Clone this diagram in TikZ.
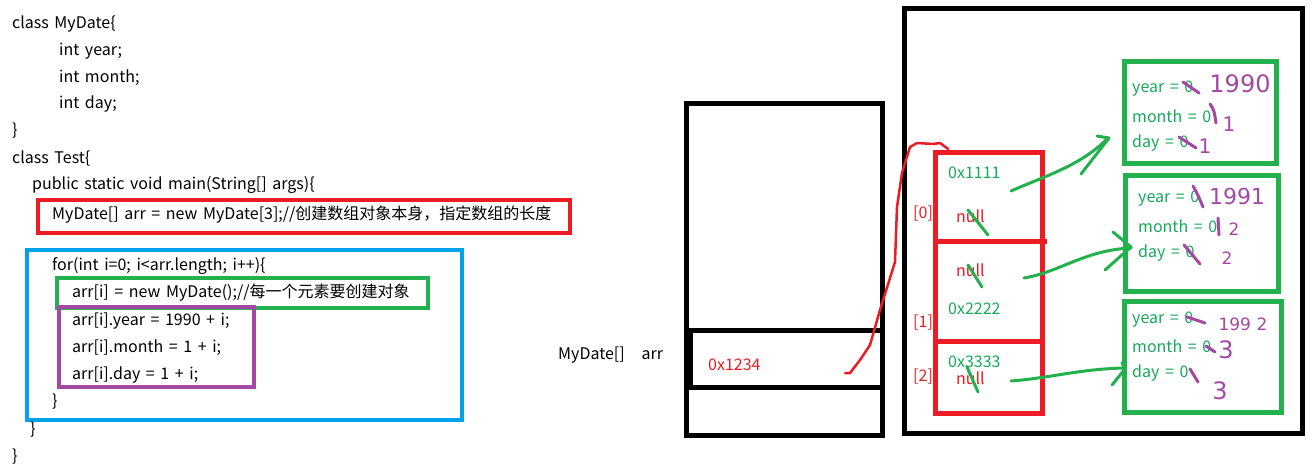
\documentclass[tikz,border=0pt]{standalone}
\usepackage{fontspec}
\setmainfont{Noto Sans CJK SC}
\newfontfamily\handfont{DejaVu Sans}
\definecolor{pred}{RGB}{237,28,36}
\definecolor{pblue}{RGB}{0,162,232}
\definecolor{pgreen}{RGB}{34,177,76}
\definecolor{tgreen}{RGB}{20,170,90}
\definecolor{ppurple}{RGB}{163,73,164}
\newcommand{\mycodefont}{\fontsize{16}{19}\selectfont\spaceskip=5.6pt\relax}
\tikzset{
  code/.style={anchor=west, inner sep=0pt, font=\mycodefont},
  rtext/.style={code, text=pred},
  gtext/.style={code, text=tgreen},
  box/.style={draw, line width=#1, inner sep=0pt},
  hand/.style={text=ppurple, inner sep=0pt, font=\handfont\fontsize{#1}{#1}\selectfont},
  gstroke/.style={draw=pgreen, line width=3pt, line cap=round, line join=round},
  pstroke/.style={draw=ppurple, line width=3pt, line cap=round, line join=round},
  rstroke/.style={draw=pred, line width=2.5pt, line cap=round, line join=round},
}
\begin{document}
\begin{tikzpicture}[x=1pt,y=-1pt]
\useasboundingbox (0,0) rectangle (1314,470);
% ---------------- code ----------------
\node[code] (l1) at (12,24) {class MyDate\{};
\node[code] (l2) at (59,51) {int year;};
\node[code] (l3) at (59,78) {int month;};
\node[code] (l4) at (59,104) {int day;};
\node[code] (l5) at (12,131) {\}};
\node[code] (l6) at (12,158) {class Test\{};
\node[code] (l7) at (32,185) {public static void main(String[] args)\{};
\node[box=4pt, draw=pred, minimum width=532, minimum height=33] (redcode) at (304,216.5) {};
\node[code] (l8) at (52,215) {MyDate[] arr = new MyDate[3];//创建数组对象本身，指定数组的长度};
\node[box=4pt, draw=pblue, minimum width=435, minimum height=170] (bluecode) at (244.5,335) {};
\node[code] (l9) at (52,266) {for(int i=0; i<arr.length; i++)\{};
\node[box=4pt, draw=pgreen, minimum width=371, minimum height=29] (greencode) at (242.5,293) {};
\node[code] (l10) at (72,293) {arr[i] = new MyDate();//每一个元素要创建对象};
\node[box=4pt, draw=ppurple, minimum width=195, minimum height=80] (purplecode) at (156,347) {};
\node[code] (l11) at (72,321) {arr[i].year = 1990 + i;};
\node[code] (l12) at (72,348) {arr[i].month = 1 + i;};
\node[code] (l13) at (72,375) {arr[i].day = 1 + i;};
\node[code] (l14) at (52,402) {\}};
\node[code] (l15) at (30,430) {\}};
\node[code] (l16) at (12,457) {\}};
% ---------------- stack ----------------
\node[code] (varname) at (558,355) {MyDate[]\ \ \ arr};
\node[box=5pt, minimum width=196, minimum height=331] (stack) at (784,269.5) {};
\draw[line width=5pt] (686,330) -- (882,330);
\draw[line width=5pt] (686,387) -- (882,387);
\fill (686,330) rectangle (693,387);
\node[rtext] (ref) at (708,365) {0x1234};
% ---------------- heap ----------------
\node[box=5pt, minimum width=398, minimum height=424] (heap) at (1103,221) {};
\node[box=5pt, draw=pred, minimum width=107, minimum height=260] (arr) at (988.5,283) {};
\draw[draw=pred, line width=5pt] (935,242) -- (1047,242);
\draw[draw=pred, line width=5pt] (935,341) -- (1045,341);
\node[rtext] (i0) at (913,214) {[0]};
\node[rtext] (i1) at (913,323) {[1]};
\node[rtext] (i2) at (913,377) {[2]};
\node[gtext] (a0) at (948,173) {0x1111};
\node[rtext] (n0) at (956,216) {null};
\node[rtext] (n1) at (956,270) {null};
\node[gtext] (a1) at (948,309) {0x2222};
\node[gtext] (a2) at (948,362) {0x3333};
\node[rtext] (n2) at (956,378) {null};
% objects
\node[box=5pt, draw=pgreen, minimum width=152, minimum height=102] (o1) at (1200,113) {};
\node[box=5pt, draw=pgreen, minimum width=153, minimum height=116] (o2) at (1202,234) {};
\node[box=5pt, draw=pgreen, minimum width=157, minimum height=111] (o3) at (1203,356.5) {};
\node[gtext] (o1y) at (1132,89) {year = 0};
\node[gtext] (o1m) at (1132,116) {month = 0};
\node[gtext] (o1d) at (1132,143) {day = 0};
\node[gtext] (o2y) at (1138,199) {year = 0};
\node[gtext] (o2m) at (1138,226) {month = 0};
\node[gtext] (o2d) at (1138,253) {day = 0};
\node[gtext] (o3y) at (1132,320) {year = 0};
\node[gtext] (o3m) at (1132,346) {month = 0};
\node[gtext] (o3d) at (1132,373) {day = 0};
% handwritten values
\node[hand=24] (h1y) at (1240,84) {1990};
\node[hand=20] (h1m) at (1229,124) {1};
\node[hand=20] (h1d) at (1205,146) {1};
\node[hand=22] (h2y) at (1237,196) {1991};
\node[hand=17] (h2m) at (1234,229) {2};
\node[hand=17] (h2d) at (1227,258) {2};
\node[hand=17] (h3y) at (1243,324) {199\,\,2};
\node[hand=24] (h3m) at (1226,350) {3};
\node[hand=24] (h3d) at (1220,391) {3};
% purple strikes over zeros
\draw[pstroke] (1183,82) -- (1199,93);
\draw[pstroke] (1210,104) .. controls (1214,110) .. (1216,123);
\draw[pstroke] (1179,137) -- (1196,148);
\draw[pstroke] (1193,186) .. controls (1198,195) .. (1203,207);
\draw[pstroke] (1218,218) -- (1219,235);
\draw[pstroke] (1184,245) -- (1200,264);
\draw[pstroke] (1187,317) -- (1205,323);
\draw[pstroke] (1206,346) -- (1215,352);
\draw[pstroke] (1190,369) -- (1198,382);
% green strikes over null
\draw[gstroke] (968,210) -- (988,235);
\draw[gstroke] (968,265) -- (982,287);
\draw[gstroke] (967,367) -- (978,392);
% green pointer arrows
\coordinate (s0) at (1011,191);
\coordinate (e0) at (1107,139);
\draw[gstroke] (s0) .. controls (1045,176) and (1080,166) .. (e0);
\draw[gstroke] (1097,136) -- (1109,138) -- (1081,174);
\coordinate (s1) at (1024,278);
\coordinate (e1) at (1131,248);
\draw[gstroke] (s1) .. controls (1060,272) and (1085,250) .. (e1);
\draw[gstroke] (1113,232) -- (1131,247) -- (1105,270);
\coordinate (s2) at (1011,381);
\coordinate (e2) at (1124,368);
\draw[gstroke] (s2) .. controls (1050,378) and (1080,369) .. (e2);
\draw[gstroke] (1122,363) -- (1125,369) -- (1112,385);
% red pointer from stack to array
\coordinate (rs) at (845,373);
\coordinate (re) at (948,149);
\draw[rstroke] (rs) -- (850,373) -- (860,360) -- (870,345) -- (880,310) -- (895,262) -- (897,207) -- (902,173) -- (910,147) -- (917,143) -- (933,144) -- (940,143) -- (re);
\end{tikzpicture}
\end{document}
